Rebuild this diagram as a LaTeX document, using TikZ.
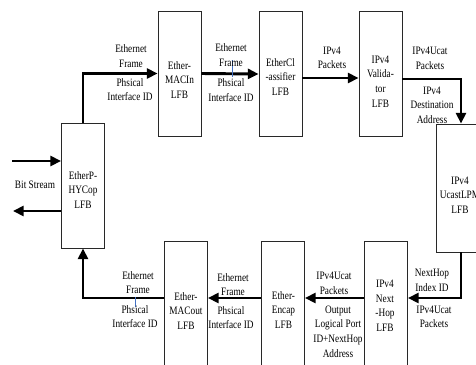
\documentclass[tikz,border=0pt]{standalone}
\usepackage{fontspec}
\setmainfont{Liberation Serif}[FakeStretch=0.82]
\usetikzlibrary{arrows.meta,calc}

\begin{document}
\begin{tikzpicture}[x=0.75pt,y=0.75pt,yscale=-1,xscale=1,
  lfb/.style={draw={rgb, 255:red, 40; green, 40; blue, 40 }, line width=0.7pt, minimum width=32.25pt, minimum height=93.75pt, inner sep=0pt},
  txt/.style={font=\fontsize{8.5}{10.9}\selectfont, align=center, inner sep=0pt},
  flow/.style={line width=2.2pt, -{Triangle[length=8pt,width=7.5pt]}},
  blueline/.style={draw={rgb, 255:red, 68; green, 114; blue, 196 }, line width=0.6pt}]
\clip (0,0) rectangle (476,365); %diagram 476 x 365

%Shape: Rectangle [id:phy] 
\node [lfb] (phy) at (83,185.5) {};
%Shape: Rectangle [id:macin] 
\node [lfb] (macin) at (179.5,73.5) {};
%Shape: Rectangle [id:cls] 
\node [lfb] (cls) at (280.5,74) {};
%Shape: Rectangle [id:val] 
\node [lfb] (val) at (380.5,74) {};
%Shape: Rectangle [id:lpm] 
\node [lfb, minimum height=96pt] (lpm) at (457.5,188) {};
%Shape: Rectangle [id:nh] 
\node [lfb] (nh) at (386,303.5) {};
%Shape: Rectangle [id:enc] 
\node [lfb] (enc) at (283,303.5) {};
%Shape: Rectangle [id:macout] 
\node [lfb] (macout) at (186,303.5) {};

% Text Node
\node [txt] (phy-t) at (83,190) {EtherP-\\HYCop\\LFB};
% Text Node
\node [txt] (macin-t) at (179.5,80) {Ether-\\MACIn\\LFB};
% Text Node
\node [txt] (cls-t) at (280.5,77) {EtherCl\\-assifier\\LFB};
% Text Node
\node [txt] (val-t) at (380.5,81.5) {IPv4\\Valida-\\tor\\LFB};
% Text Node
\node [txt] (lpm-t) at (460,195) {IPv4\\UcastLPM\\LFB};
% Text Node
\node [txt] (nh-t) at (385,306) {IPv4\\Next\\-Hop\\LFB};
% Text Node
\node [txt] (enc-t) at (283.5,310) {Ether-\\Encap\\LFB};
% Text Node
\node [txt] (macout-t) at (186,311) {Ether-\\MACout\\LFB};

%Straight Lines [id:bit] 
\coordinate (bin) at (12,161);
\coordinate (bout) at (13,211);
\draw [flow] (bin) -- (bin -| phy.west);
\draw [flow] (phy.west |- bout) -- (bout);
%Straight Lines [id:top] 
\draw [flow] (phy.north) |- (macin.west);
\draw [flow] (macin.east) -- (cls.west);
\draw [flow] ($(cls.east)+(0,4)$) -- ($(val.west)+(0,4)$);
\draw [flow] ($(val.east)+(0,5)$) -| ($(lpm.north)+(3.5,0)$);
%Straight Lines [id:bottom] 
\draw [flow] ($(lpm.south)+(3.5,0)$) |- ($(nh.east)+(0,-5.5)$);
\draw [flow] ($(nh.west)+(0,-5.5)$) -- ($(enc.east)+(0,-5.5)$);
\draw [flow] ($(enc.west)+(0,-5.5)$) -- ($(macout.east)+(0,-5.5)$);
\draw [flow] ($(macout.west)+(0,-5.5)$) -| (phy.south);

%Straight Lines [id:marks] 
\draw [blueline] (232,60) -- (232,77);
\draw [blueline] (135,297) -- (135,307);

% Text Node
\node [txt] (bits) at (35,185) {Bit Stream};
% Text Node
\node [txt] (fr1) at (131,56) {Ethernet\\Frame};
% Text Node
\node [txt] (id1) at (130,89.5) {Phsical\\Interface ID};
% Text Node
\node [txt] (fr2) at (231,55) {Ethernet\\Frame};
% Text Node
\node [txt] (id2) at (231,90) {Phsical\\Interface ID};
% Text Node
\node [txt] (pk1) at (332,58) {IPv4\\Packets};
% Text Node
\node [txt] (pk2) at (430,58.5) {IPv4Ucat\\Packets};
% Text Node
\node [txt] (dst) at (432,105) {IPv4\\Destination\\Address};
% Text Node
\node [txt] (idx) at (432,280.5) {NextHop\\Index ID};
% Text Node
\node [txt] (pk3) at (434,317) {IPv4Ucat\\Packets};
% Text Node
\node [txt] (pk4) at (334,283.5) {IPv4Ucat\\Packets};
% Text Node
\node [txt] (out) at (338,331.5) {Output\\Logical Port\\ID+NextHop\\Address};
% Text Node
\node [txt] (fr3) at (233,284.5) {Ethernet\\Frame};
% Text Node
\node [txt] (id3) at (231,317.5) {Phsical\\Interface ID};
% Text Node
\node [txt] (fr4) at (138,282.5) {Ethernet\\Frame};
% Text Node
\node [txt] (id4) at (135,316.5) {Phsical\\Interface ID};

\end{tikzpicture}
\end{document}
